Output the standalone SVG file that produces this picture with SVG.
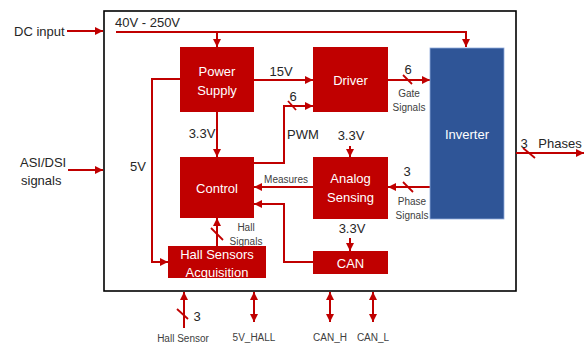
<svg xmlns="http://www.w3.org/2000/svg" width="585" height="349" viewBox="0 0 585 349">
<style>
.box{fill:#C00000}
.inv{fill:#2F5597;stroke:#8FAADC;stroke-width:0.8}
.bt{font-family:"Liberation Sans",Arial,sans-serif;font-size:13px;fill:#fff;text-anchor:middle}
.lb{font-family:"Liberation Sans",Arial,sans-serif;font-size:13px;fill:#262626}
.sm{font-family:"Liberation Sans",Arial,sans-serif;font-size:10px;fill:#404040;text-anchor:middle}
.c{fill:none;stroke:#C00000;stroke-width:2}
.a{marker-end:url(#ah)}
.d{marker-start:url(#ah);marker-end:url(#ah)}
.sl{stroke:#C00000;stroke-width:1.8}
</style>
<defs>
<marker id="ah" markerUnits="userSpaceOnUse" markerWidth="8" markerHeight="8" refX="8" refY="4" orient="auto-start-reverse">
<path d="M0,0 L8,4 L0,8 z" fill="#C00000"/>
</marker>
</defs>
<rect width="585" height="349" fill="#fff"/>
<rect id="frame" x="104" y="11" width="412" height="280" fill="#fff" stroke="#000" stroke-width="1.6"/>

<g id="connectors">
<line class="c a" x1="67" y1="31" x2="103" y2="31"/>
<polyline class="c a" points="116,32 466,32 466,47"/>
<line class="c a" x1="217" y1="32" x2="217" y2="47"/>
<line class="c a" x1="254" y1="80" x2="313" y2="80"/>
<line class="c a" x1="388" y1="80" x2="430" y2="80"/>
<line class="sl" x1="403" y1="75" x2="412" y2="84"/>
<polyline class="c a" points="254,163 284,163 284,106 313,106"/>
<line class="sl" x1="288" y1="101" x2="296" y2="110"/>
<line class="c a" x1="217" y1="112" x2="217" y2="157"/>
<polyline class="c a" points="180,79 152,79 152,262 168,262"/>
<line class="c a" x1="68" y1="170" x2="103" y2="170"/>
<line class="c a" x1="313" y1="187" x2="254" y2="187"/>
<line class="c a" x1="430" y1="187" x2="388" y2="187"/>
<line class="sl" x1="403" y1="182" x2="413" y2="192"/>
<line class="c a" x1="350" y1="146" x2="350" y2="157"/>
<line class="c a" x1="350" y1="238" x2="350" y2="251"/>
<polyline class="c a" points="313,262 284,262 284,204 254,204"/>
<line class="c a" x1="217" y1="246" x2="217" y2="218"/>
<line class="sl" x1="211" y1="228" x2="223" y2="240"/>
<line class="c a" x1="516" y1="153" x2="584" y2="153"/>
<line class="sl" x1="523" y1="148" x2="535" y2="158"/>
<line class="c a" x1="184" y1="328" x2="184" y2="292"/>
<line class="sl" x1="177" y1="309" x2="188" y2="319"/>
<line class="c d" x1="254" y1="292" x2="254" y2="322"/>
<line class="c d" x1="330" y1="292" x2="330" y2="322"/>
<line class="c d" x1="373" y1="292" x2="373" y2="322"/>
</g>

<g id="power-supply">
<rect class="box" x="180" y="47" width="74" height="65"/>
<text class="bt" x="217" y="75.5">Power</text>
<text class="bt" x="217" y="94.5">Supply</text>
</g>
<g id="driver">
<rect class="box" x="313" y="47" width="75" height="65"/>
<text class="bt" x="350.5" y="84.5">Driver</text>
</g>
<g id="inverter">
<rect class="inv" x="430" y="48" width="74" height="171"/>
<text class="bt" x="467" y="138.5">Inverter</text>
</g>
<g id="control">
<rect class="box" x="180" y="157" width="74" height="61"/>
<text class="bt" x="217" y="192.5">Control</text>
</g>
<g id="analog-sensing">
<rect class="box" x="313" y="157" width="75" height="62"/>
<text class="bt" x="350.5" y="182.5">Analog</text>
<text class="bt" x="350.5" y="201.5">Sensing</text>
</g>
<g id="can">
<rect class="box" x="313" y="251" width="75" height="23"/>
<text class="bt" x="350.5" y="267.5">CAN</text>
</g>
<g id="hall-acq">
<rect class="box" x="168" y="246" width="98" height="32"/>
<text class="bt" x="217" y="258.5">Hall Sensors</text>
<text class="bt" x="217" y="276.5">Acquisition</text>
</g>

<g id="labels">
<text class="lb" x="14" y="35.5">DC input</text>
<text class="lb" x="115" y="26.5">40V - 250V</text>
<text class="lb" x="20" y="166.5">ASI/DSI</text>
<text class="lb" x="21" y="184.5">signals</text>
<text class="lb" x="138" y="170.5" text-anchor="middle">5V</text>
<text class="lb" x="281" y="75.5" text-anchor="middle">15V</text>
<text class="lb" x="408" y="73.5" text-anchor="middle">6</text>
<text class="lb" x="293" y="100.5" text-anchor="middle">6</text>
<text class="lb" x="303" y="138.5" text-anchor="middle">PWM</text>
<text class="lb" x="202" y="137.5" text-anchor="middle">3.3V</text>
<text class="lb" x="351" y="139.5" text-anchor="middle">3.3V</text>
<text class="lb" x="352" y="232.5" text-anchor="middle">3.3V</text>
<text class="lb" x="407" y="175.5" text-anchor="middle">3</text>
<text class="lb" x="524" y="147.5" text-anchor="middle">3</text>
<text class="lb" x="560" y="147.5" text-anchor="middle">Phases</text>
<text class="lb" x="197" y="320.5" text-anchor="middle">3</text>
<text class="sm" x="409" y="96.5">Gate</text>
<text class="sm" x="409" y="110.5">Signals</text>
<text class="sm" x="286" y="182.5">Measures</text>
<text class="sm" x="412" y="204.5">Phase</text>
<text class="sm" x="412" y="218.5">Signals</text>
<text class="sm" x="246" y="230.5">Hall</text>
<text class="sm" x="246" y="244.5">Signals</text>
<text class="sm" x="183" y="342">Hall Sensor</text>
<text class="sm" x="254" y="341">5V_HALL</text>
<text class="sm" x="330" y="341">CAN_H</text>
<text class="sm" x="373" y="341">CAN_L</text>
</g>
</svg>
